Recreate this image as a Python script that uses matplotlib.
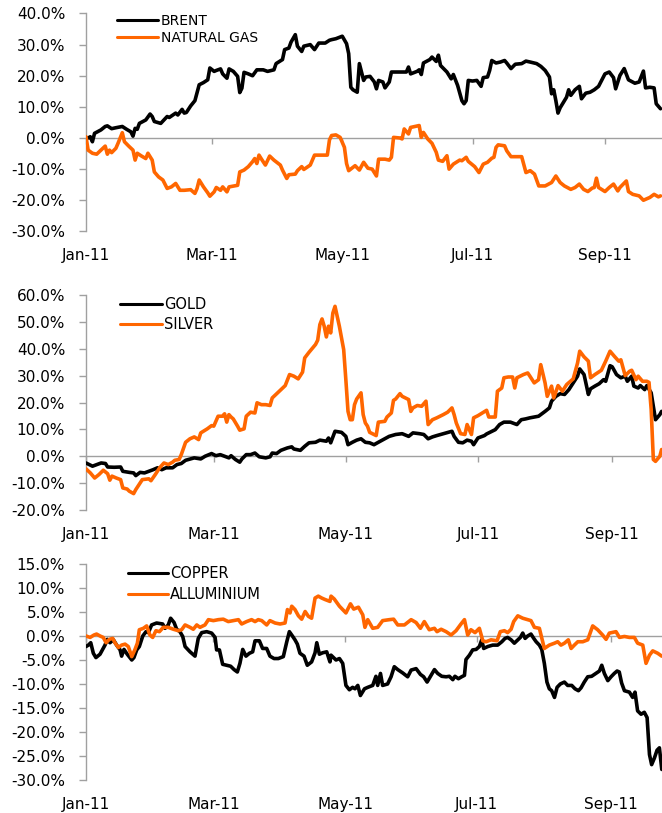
import matplotlib
matplotlib.use("Agg")
import matplotlib.pyplot as plt
import numpy as np

plt.rcParams['font.family'] = ['DejaVu Sans']

BLACK = '#000000'
ORANGE = '#FF6600'
AXIS_GREY = '#A0A0A0'
LINE_W = 2.6

# x positions are days elapsed since 1 Jan 2011
month_days = [0, 59, 120, 181, 243]
month_labels = ['Jan-11', 'Mar-11', 'May-11', 'Jul-11', 'Sep-11']

# ---- Energy: cumulative change since start of year (%) ----
brent_day = [1, 2, 3, 4, 7, 9, 10, 12, 14, 17, 19, 21, 22, 23, 24, 25, 28, 30, 31, 32,
             35, 38, 39, 42, 43, 45, 46, 47, 49, 51, 53, 55, 57, 58, 60, 61, 63, 64, 66, 67,
             69, 71, 72, 73, 74, 76, 78, 80, 83, 85, 88, 89, 92, 93, 95, 96, 98, 99, 101, 102,
             105, 107, 109, 112, 114,
             115, 117, 120, 122, 123, 124, 125, 127, 128, 130, 131, 133, 135, 136, 137, 139,
             140, 142, 143, 146, 150, 151, 152, 155, 156, 157, 158, 161, 162, 164, 165, 166,
             169, 171, 172, 174, 176, 177, 178, 179, 181, 183, 185, 186, 188, 189, 190, 192,
             194, 196, 197, 199, 201, 204, 206, 208, 211, 213, 215, 217, 218, 219, 220, 221,
             222, 225, 226, 227, 229, 231, 232, 234, 236, 238, 240, 243, 245, 247, 248, 250,
             252, 254, 257, 259, 261, 262, 264, 266, 267, 269]
brent_val = [0.0, 0.4, -1.2, 1.5, 2.6, 3.7, 3.9, 3.0, 3.3, 3.7, 2.8, 2.0, 0.6, 3.1, 2.8, 4.7,
             5.8, 7.7, 6.9, 5.3, 4.7, 6.9, 6.6, 8.0, 7.4, 9.2, 8.0, 8.2, 10.3, 12.0, 17.1, 17.8,
             18.7, 22.5, 21.4, 21.7, 22.2, 20.6, 19.2, 22.2, 21.4, 19.8, 14.6, 16.0, 21.1, 20.6,
             20.0, 21.9, 21.9, 21.4, 21.9, 23.9, 25.2, 28.4, 28.9, 30.8, 33.2, 29.5, 27.8, 29.5,
             30.0, 28.4, 30.5, 30.5, 31.4,
             31.6, 31.9, 32.7, 30.3, 27.1, 16.3, 15.5, 14.7, 23.9, 18.5, 19.6, 19.8, 18.0, 15.8,
             18.5, 18.0, 16.1, 18.0, 21.2, 21.2, 21.2, 22.8, 20.6, 21.4, 21.9, 20.4, 24.1, 25.2,
             26.0, 24.6, 26.6, 23.3, 21.2, 19.0, 20.4, 16.9, 12.0, 11.0, 12.0, 18.5, 18.3, 18.5,
             16.6, 19.4, 19.6, 21.7, 24.9, 24.1, 24.4, 24.9, 24.1, 22.3, 23.7, 23.9, 24.7, 24.4,
             23.9, 23.0, 21.7, 19.6, 14.2, 15.5, 12.0, 8.0, 9.7, 13.1, 15.5, 13.7, 15.5, 16.6,
             12.6, 14.4, 14.7, 15.5, 16.6, 20.6, 21.2, 19.4, 15.8, 20.1, 22.3, 18.7, 17.6, 18.0,
             21.5, 16.1, 16.3, 16.1, 11.0, 9.4]

natgas_day = [0, 1, 3, 5, 7, 9, 10, 11, 12, 14, 15, 17, 18, 20, 22, 23, 24, 26, 28, 29, 31,
              32, 34, 36, 38, 40, 42, 44, 46, 49, 51, 52, 53, 55, 57, 58, 60, 61, 63, 64, 66,
              67, 71, 72, 74, 76, 78, 79, 80, 81, 82, 84, 86, 88, 91, 92, 94, 95, 98, 99, 101,
              102, 105, 107, 110, 113, 114,
              115, 117, 119, 121, 122, 123, 126, 128, 130, 132, 134, 136, 137, 140, 142, 143,
              144, 147, 148, 149, 151, 152, 154, 156, 157, 158, 160, 162, 164, 165, 167, 169,
              170, 172, 175, 176, 178, 179, 182, 184, 186, 188, 190, 191, 192, 193, 196, 197,
              199, 201, 204, 206, 208, 210, 212, 215, 218, 220, 222, 224, 227, 229, 231, 233,
              235, 237, 238, 239, 240, 243, 245, 247, 249, 250, 253, 254, 256, 259, 261, 264,
              266, 268, 269]
natgas_val = [0.4, -3.9, -4.9, -5.2, -3.9, -2.6, -5.2, -3.9, -4.7, -3.3, -1.7, 1.7, -1.2,
              -2.6, -3.9, -7.1, -4.9, -5.8, -6.6, -4.9, -7.1, -10.9, -12.5, -13.5, -16.2,
              -15.7, -14.6, -16.8, -16.8, -16.6, -17.8, -16.2, -13.5, -15.7, -17.6, -18.7,
              -17.3, -15.9, -16.8, -15.7, -17.3, -15.7, -15.2, -10.9, -10.3, -9.2, -7.6, -6.6,
              -8.2, -5.5, -6.6, -8.7, -5.8, -7.1, -8.7, -10.3, -13.0, -11.8, -11.6, -10.5,
              -9.2, -10.1, -8.7, -5.5, -5.5, -5.5, -0.6,
              0.8, 1.0, 0.2, -3.0, -8.2, -10.5, -8.9, -10.3, -7.8, -9.7, -10.0, -12.2, -6.8,
              -6.8, -7.1, -6.2, 0.2, 0.0, -0.3, 2.9, 1.3, 3.4, 3.7, 4.0, 0.2, 1.8, -0.3, -1.7,
              -4.6, -7.1, -7.5, -5.7, -10.0, -8.4, -7.1, -7.3, -6.2, -7.5, -9.2, -11.1, -8.4,
              -7.8, -6.5, -6.2, -3.0, -2.2, -2.5, -4.1, -6.0, -6.0, -6.0, -11.1, -10.5, -11.6,
              -15.4, -15.4, -14.3, -12.2, -14.3, -15.4, -16.5, -15.9, -14.8, -16.5, -17.2,
              -16.1, -15.9, -12.9, -15.9, -17.2, -15.9, -14.8, -17.0, -15.9, -13.8, -17.2,
              -18.1, -18.6, -20.0, -19.1, -18.1, -18.9, -18.6]

# ---- Precious metals ----
gold_day = [0, 3, 5, 7, 9, 10, 13, 16, 17, 20, 22, 23, 25, 27, 29, 31, 33, 35, 37, 40, 42,
            44, 46, 50, 53, 55, 58, 60, 62, 64, 66, 67, 69, 71, 72, 74, 76, 78, 80, 83, 85,
            86, 88, 90, 93, 95, 96, 99, 101, 103, 106, 108, 111, 112,
            113, 115, 118, 120, 121, 123, 125, 127, 129, 131, 133, 135, 138, 140, 143, 146,
            149, 151, 154, 156, 158, 160, 162, 165, 167, 169, 170, 172, 174, 176, 178, 179,
            181, 184, 185, 189, 191, 193, 196, 199, 201, 203, 205, 209, 211, 212, 214, 215,
            217, 219, 221, 223, 225, 227, 228, 230, 232, 233, 235, 237, 239, 240, 242, 243,
            245, 247, 249, 250, 252, 253, 255, 256, 258, 259, 261, 263, 265, 265.8]
gold_val = [-2.5, -3.7, -3.1, -2.5, -2.7, -4.0, -4.1, -4.0, -5.6, -6.0, -6.2, -7.2, -6.0,
            -6.2, -5.6, -5.0, -4.3, -5.0, -4.3, -4.3, -3.1, -2.7, -1.5, -0.6, -1.0, 0.0, 1.0,
            0.2, 0.6, 0.0, -0.6, 0.2, -1.2, -2.2, -1.0, 0.6, 0.6, 1.2, -0.2, -0.6, -0.2, 1.2,
            1.0, 2.2, 3.1, 3.5, 2.7, 2.2, 3.7, 5.0, 5.2, 6.0, 5.6, 6.8,
            5.0, 9.3, 8.9, 7.4, 4.3, 5.2, 6.0, 6.5, 5.2, 5.0, 4.3, 5.2, 6.5, 7.4, 8.1, 8.4,
            7.4, 8.7, 8.4, 8.1, 6.5, 7.2, 7.7, 8.4, 8.9, 9.3, 7.4, 5.2, 5.0, 6.0, 5.6, 4.3,
            6.8, 7.7, 8.3, 9.9, 11.8, 12.7, 12.7, 11.8, 13.6, 13.9, 14.3, 14.9, 16.1, 16.7,
            18.0, 20.5, 22.3, 23.3, 23.0, 24.8, 27.3, 29.8, 32.5, 30.4, 23.0, 25.1, 26.1,
            27.0, 28.5, 27.9, 33.7, 33.3, 30.4, 29.2, 29.8, 27.9, 29.8, 26.1, 25.4, 26.3,
            24.8, 26.3, 23.6, 13.6, 15.5, 16.7]

silver_day = [0, 2, 4, 6, 8, 10, 11, 12, 14, 16, 17, 19, 20, 22, 23, 25, 26, 29, 30, 32, 34,
              36, 38, 40, 41, 43, 44, 46, 48, 50, 52, 53, 56, 58, 59, 61, 63, 64, 65, 66, 67,
              68, 70, 71, 73, 74, 76, 78, 79, 81, 83, 85, 86, 90, 92, 94, 96, 98, 100, 101,
              103, 106, 107, 108, 109, 110, 111, 112,
              113, 114, 115, 117, 119, 120, 121, 122, 123, 124, 125, 127, 128, 129, 130, 131,
              134, 135, 138, 139, 141, 142, 143, 145, 146, 149, 150, 151, 153, 155, 157, 158,
              160, 162, 165, 167, 169, 170, 171, 173, 175, 176, 178, 179, 181, 183, 185, 186,
              189, 190, 192, 193, 195, 197, 198, 199, 202, 204, 205, 207, 209, 210, 212, 213,
              215, 216, 218, 220, 222, 225, 227, 228, 230, 232, 233, 235, 238, 240, 242, 244,
              246, 247, 249, 251, 252, 254, 255, 257, 259, 260, 261, 262, 263, 265, 265.8]
silver_val = [-4.7, -6.2, -8.1, -6.8, -5.2, -6.5, -8.9, -7.4, -8.1, -8.7, -11.8, -12.2,
              -13.0, -13.9, -12.4, -9.9, -8.7, -8.4, -9.1, -6.8, -4.3, -2.5, -3.1, -2.2, -1.5,
              -1.2, 0.6, 5.2, 6.5, 7.2, 6.2, 8.7, 10.2, 11.4, 11.2, 14.9, 14.9, 15.8, 12.7,
              15.5, 14.6, 13.9, 11.2, 9.7, 10.2, 14.9, 16.4, 16.1, 19.9, 19.2, 19.2, 18.9,
              21.7, 24.8, 26.3, 30.4, 29.8, 28.8, 31.3, 36.6, 38.7, 41.6, 43.2, 49.0, 51.1,
              48.4, 44.4, 48.4,
              45.9, 53.3, 55.8, 48.4, 39.7, 28.5, 16.7, 13.6, 13.6, 19.2, 21.3, 23.6, 15.5,
              12.4, 11.2, 8.9, 7.7, 12.7, 13.0, 14.6, 16.1, 20.8, 21.3, 23.3, 22.3, 21.1,
              16.7, 18.0, 18.9, 18.6, 20.5, 11.8, 13.6, 14.3, 15.5, 16.4, 18.0, 15.5, 12.4,
              8.4, 8.1, 11.8, 8.1, 14.3, 15.1, 16.1, 17.1, 14.6, 14.6, 24.2, 25.4, 29.2, 29.5,
              29.5, 25.4, 29.2, 30.4, 31.0, 29.8, 27.3, 28.5, 34.1, 27.3, 22.3, 26.1, 21.7,
              26.3, 24.2, 26.7, 28.8, 34.7, 39.1, 37.0, 35.4, 29.2, 30.4, 32.0, 35.4, 39.1,
              37.2, 35.4, 35.9, 30.0, 31.6, 32.0, 28.5, 29.8, 27.9, 27.9, 27.5, 17.4, -1.2,
              -1.9, 0.0, 2.5]

# ---- Base metals ----
copper_day = [0.0, 1.1, 2.2, 3.4, 4.6, 6.5, 7.7, 8.8, 9.9, 11.1, 12.7, 14.2, 15.8, 16.5,
              17.6, 19.1, 21.2, 22.2, 23.5, 24.7, 26.3, 27.8, 28.9, 30.4, 32.7, 35.5, 36.6,
              38.1, 39.2, 40.8, 42.0, 43.5, 44.8, 45.9, 48.2, 50.5, 52.0, 53.6, 55.9, 58.2,
              59.8, 60.5, 61.8, 63.3, 65.2, 67.0, 68.6, 70.1, 71.3, 72.6, 74.1, 75.7, 77.2,
              78.3, 80.3, 81.8, 83.7, 85.2, 87.1, 89.1, 91.4, 93.0, 94.2, 95.3, 96.8, 97.9,
              99.1, 101.0, 102.5, 104.5, 106.1, 106.9, 108.1, 109.6, 111.5, 113.0,
              113.5, 115.8, 117.4, 118.9, 120.4, 122.0, 123.5, 124.6, 125.9, 127.1, 129.0,
              130.5, 132.8, 134.3, 135.1, 136.4, 137.4, 139.7, 141.3, 142.8, 144.4, 146.7,
              149.0, 150.6, 152.9, 154.9, 156.4, 158.0, 159.8, 161.4, 162.9, 164.8, 166.8,
              168.3, 169.9, 170.9, 172.5, 174.0, 175.3, 176.0, 177.6, 179.1, 180.7, 182.2,
              183.3, 184.2, 186.1, 188.4, 190.7, 192.6, 194.1, 195.3, 196.9, 198.4, 200.0,
              201.2, 202.3, 203.4, 204.6, 206.1, 207.4, 208.5, 210.0, 211.1, 212.3, 213.5,
              214.6, 215.7, 217.0, 218.2, 219.7, 221.6, 223.1, 225.0, 226.5, 228.1, 229.3,
              230.8, 232.4, 234.2, 236.2, 237.8, 238.9, 240.1, 241.7, 243.2, 244.7, 246.0,
              247.0, 248.1, 249.4, 251.7, 253.2, 254.3, 255.5, 257.1, 258.6, 259.9, 261.0,
              262.0, 263.3, 264.5, 265.6, 266.7]
copper_val = [-2.2, -1.9, -1.4, -3.6, -4.5, -3.8, -2.8, -1.9, -0.7, -1.4, -0.8, -1.9, -2.9,
              -4.2, -2.8, -3.8, -5.0, -4.5, -2.9, -2.2, 0.0, 0.9, 0.7, 2.3, 2.7, 2.5, 1.6,
              2.3, 3.7, 2.8, 1.4, 0.9, -0.1, -2.2, -3.3, -4.2, -0.5, 0.7, 0.9, 0.6, -0.3, -2.9,
              -2.9, -5.9, -6.1, -6.3, -7.0, -7.5, -5.7, -2.8, -4.2, -3.6, -3.3, -1.0, -1.0,
              -2.6, -2.6, -4.2, -4.7, -4.7, -4.3, -1.2, 0.9, 0.2, -0.8, -1.7, -3.6, -4.2,
              -6.1, -5.4, -3.5, -1.4, -3.8, -3.5, -3.3, -5.4,
              -4.0, -5.0, -4.7, -5.7, -10.3, -11.2, -10.7, -11.0, -10.3, -12.4, -11.0, -10.7,
              -10.3, -8.4, -10.3, -7.8, -10.3, -10.0, -8.5, -6.4, -7.0, -7.7, -8.5, -7.1,
              -6.8, -8.0, -8.5, -9.6, -8.2, -7.0, -7.8, -8.4, -8.5, -8.4, -9.1, -8.4, -8.9,
              -8.5, -8.2, -4.9, -4.0, -2.9, -2.8, -2.2, -0.8, -2.6, -2.2, -1.9, -1.9, -1.2,
              -0.5, -0.3, -0.8, -1.5, -0.8, -0.3, 0.6, -0.5, 0.0, 0.4, -0.5, -1.2, -1.9, -2.8,
              -5.7, -9.6, -11.0, -11.4, -12.8, -10.7, -10.0, -9.6, -10.3, -10.3, -11.0, -11.4,
              -10.8, -9.6, -8.5, -8.4, -7.8, -7.3, -6.1, -7.8, -9.3, -8.5, -7.8, -7.3, -7.5,
              -9.8, -11.4, -11.7, -12.8, -11.7, -15.6, -16.3, -15.9, -17.0, -24.7, -26.8,
              -25.4, -23.8, -23.3, -27.8]

alum_day = [0.0, 1.9, 3.7, 4.9, 6.5, 8.0, 9.3, 10.8, 12.4, 13.4, 15.0, 16.5, 18.1, 19.6,
            21.2, 22.7, 23.8, 24.7, 26.6, 28.1, 29.6, 30.9, 32.4, 34.0, 35.8, 38.1, 40.5,
            42.8, 44.3, 45.9, 48.2, 49.7, 51.3, 52.8, 55.1, 56.7, 59.0, 61.3, 63.6, 65.9,
            68.3, 70.6, 72.1, 74.4, 76.7, 78.3, 79.8, 81.4, 83.7, 85.2, 87.6, 89.9, 92.2,
            93.3, 94.5, 95.3, 96.8, 98.4, 99.9, 101.5, 103.0, 104.5, 106.1, 107.6, 109.2,
            110.7, 113.0,
            113.5, 115.0, 117.4, 120.4, 122.5, 124.0, 126.2, 128.2, 129.2, 130.5, 132.8,
            135.1, 137.4, 140.5, 142.5, 144.4, 147.5, 150.6, 152.9, 154.9, 156.7, 159.0,
            161.4, 162.6, 164.5, 166.8, 169.1, 171.4, 173.7, 175.3, 176.8, 178.3, 180.2,
            182.2, 183.8, 185.3, 187.6, 190.4, 191.9, 193.8, 195.3, 196.9, 198.1, 200.0,
            202.3, 204.6, 206.1, 207.7, 210.0, 212.3, 214.6, 217.0, 218.5, 220.0, 221.6,
            223.4, 224.7, 226.2, 227.8, 230.1, 232.4, 234.7, 237.0, 239.3, 240.9, 242.4,
            245.5, 247.1, 249.4, 251.7, 254.0, 255.5, 257.9, 259.4, 261.0, 262.5, 264.8,
            266.7]
alum_val = [0.0, -0.3, 0.2, 0.4, 0.0, -0.3, -1.4, -0.7, -0.5, -1.4, -2.4, -1.9, -1.7, -2.2,
            -4.3, -2.8, -1.5, 1.3, 1.6, 2.1, 0.2, -0.3, 1.1, 0.9, 1.8, 1.8, 1.4, 1.1, 1.3,
            2.3, 1.8, 1.4, 2.3, 1.8, 2.3, 3.4, 3.2, 3.4, 3.5, 3.0, 3.2, 3.4, 2.5, 3.0, 3.4,
            3.0, 3.4, 3.2, 2.3, 3.2, 2.7, 2.5, 2.7, 5.5, 4.8, 6.2, 5.5, 4.2, 3.5, 5.1, 4.1,
            3.7, 7.9, 8.3, 7.9, 7.6, 7.2,
            8.3, 7.7, 6.2, 4.8, 6.7, 5.6, 6.0, 4.4, 1.8, 3.4, 1.6, 1.8, 3.2, 3.4, 3.5, 2.3,
            2.3, 3.4, 2.8, 1.6, 3.0, 1.3, 1.6, 0.9, 1.4, 0.9, 0.2, 1.1, 2.5, 3.4, 0.2, 1.3,
            0.7, 1.6, -1.0, -1.2, -0.8, -1.0, 0.9, 1.1, 0.7, 1.4, 3.0, 4.2, 3.7, 3.4, 3.2,
            1.8, 1.6, -2.6, -1.9, -1.5, -1.2, -1.9, -1.5, -0.8, -2.6, -1.9, -1.2, -1.2, -0.8,
            2.1, 1.3, 0.2, -0.7, 0.6, 0.9, -0.3, -0.1, -0.3, -0.3, -1.5, -1.9, -5.7, -4.0,
            -3.1, -3.6, -4.2]

fig = plt.figure(figsize=(6.62, 8.13), dpi=100)

panels = [
    dict(rect=[0.1299, 0.7154, 0.8701, 0.2680], ylim=(-30, 40), ystep=10, xmax=269.7,
         series=[(brent_day, brent_val, BLACK, 'BRENT'),
                 (natgas_day, natgas_val, ORANGE, 'NATURAL GAS')],
         leg_anchor=(0.054, 0.998), leg_size=10, leg_len=2.95, leg_pad=0.2, leg_space=0.2),
    dict(rect=[0.1299, 0.3727, 0.8701, 0.2644], ylim=(-20, 60), ystep=10, xmax=266.0,
         series=[(gold_day, gold_val, BLACK, 'GOLD'),
                 (silver_day, silver_val, ORANGE, 'SILVER')],
         leg_anchor=(0.059, 0.99), leg_size=10.5, leg_len=2.9, leg_pad=0.15, leg_space=0.34),
    dict(rect=[0.1299, 0.0406, 0.8701, 0.2657], ylim=(-30, 15), ystep=5, xmax=266.8,
         series=[(copper_day, copper_val, BLACK, 'COPPER'),
                 (alum_day, alum_val, ORANGE, 'ALLUMINIUM')],
         leg_anchor=(0.073, 0.99), leg_size=10.5, leg_len=2.75, leg_pad=0.15, leg_space=0.41),
]

for p in panels:
    ax = fig.add_axes(p['rect'])
    for xd, yd, col, name in p['series']:
        ax.plot(xd, yd, color=col, lw=LINE_W, label=name, zorder=3,
                solid_joinstyle='round', solid_capstyle='round')

    ax.set_xlim(0, p['xmax'])
    ax.set_ylim(*p['ylim'])
    yt = np.arange(p['ylim'][0], p['ylim'][1] + p['ystep'] / 2, p['ystep'])
    ax.set_yticks(yt)
    ax.set_yticklabels([f"{v:.1f}%" for v in yt])
    ax.set_xticks(month_days)
    ax.set_xticklabels(month_labels)

    for s in ('top', 'right'):
        ax.spines[s].set_visible(False)
    ax.spines['left'].set_color(AXIS_GREY)
    ax.spines['left'].set_linewidth(1.0)
    ax.spines['bottom'].set_position(('data', 0))
    ax.spines['bottom'].set_color(AXIS_GREY)
    ax.spines['bottom'].set_linewidth(1.0)

    ax.tick_params(axis='y', direction='out', length=5, width=1, color=AXIS_GREY,
                   pad=10, labelsize=11, labelcolor='#000000')
    # category labels sit below the plot area, while the tick marks hang off the zero line
    zero_px = ax.transData.transform((0, 0))[1]
    bottom_px = ax.transAxes.transform((0, 0))[1]
    pad_pt = (zero_px - bottom_px + 15 - 4) * 72 / fig.dpi
    ax.tick_params(axis='x', direction='out', length=4, width=1, color=AXIS_GREY,
                   pad=pad_pt, labelsize=11, labelcolor='#000000')

    leg = ax.legend(loc='upper left', bbox_to_anchor=p['leg_anchor'], frameon=False,
                    fontsize=p['leg_size'], handlelength=p['leg_len'],
                    handletextpad=p['leg_pad'], labelspacing=p['leg_space'],
                    borderpad=0, borderaxespad=0)
    for h in leg.get_lines():
        h.set_linewidth(2.2)

fig.savefig('out.png', dpi=100)
